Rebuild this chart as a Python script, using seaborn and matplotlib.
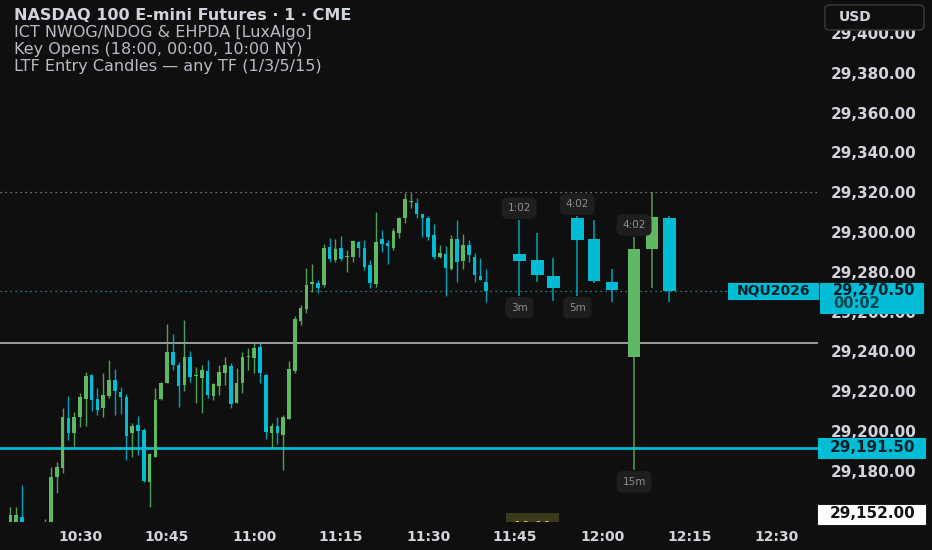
import numpy as np
import pandas as pd
import matplotlib
matplotlib.use("Agg")
import matplotlib.pyplot as plt
from matplotlib.patches import Rectangle, FancyBboxPatch
import seaborn as sns

# 1 minute candles, first one at 10:18
start_minute = 18
opens = [
    29150, 29148, 29157, 29140, 29150, 29142, 29148, 29150, 29177, 29181.5,
    29206.5, 29199, 29207, 29216, 29228, 29216, 29211.5, 29217.5, 29225.5, 29219.5,
    29217, 29199, 29203, 29200.5, 29174.5, 29187, 29216, 29224, 29239.5, 29233,
    29223, 29237, 29227.5, 29226.5, 29230, 29217.5, 29222.5, 29229, 29232.5, 29214,
    29224, 29237, 29236.5, 29242, 29228, 29199, 29202.5, 29198, 29206, 29230,
    29255.5, 29261.5, 29274, 29274.5, 29273.5, 29292.5, 29286, 29292, 29287.5, 29287.5,
    29295, 29292, 29283.5, 29274, 29296.5, 29294.5, 29292, 29299.5, 29307, 29315,
    29314.5, 29309, 29307, 29298.5, 29287.5, 29289, 29281.5, 29296.5, 29285.5, 29293.5,
    29287.5, 29278, 29275]
highs = [
    29162, 29162, 29173, 29153, 29152, 29154, 29156, 29182, 29184.5, 29211.5,
    29217.5, 29209.5, 29219, 29229.5, 29228.5, 29221.5, 29229, 29235.5, 29231, 29222,
    29218.5, 29204, 29207.5, 29201.5, 29189, 29221.5, 29224.5, 29254, 29249, 29234.5,
    29256, 29240, 29232, 29233, 29235.5, 29224, 29233, 29237, 29234, 29231.5,
    29239.5, 29241.5, 29244.5, 29244, 29228.5, 29204, 29207, 29208, 29235, 29258,
    29263.5, 29282, 29284, 29276, 29294, 29297, 29296.5, 29298, 29291, 29296,
    29295.5, 29296, 29286, 29310, 29301, 29296, 29302, 29307.5, 29319.5, 29319.5,
    29317, 29309, 29308, 29304, 29293.5, 29293, 29298.5, 29306, 29299, 29296,
    29289.5, 29287, 29281.5]
lows = [
    29140, 29140, 29140, 29135, 29138, 29138, 29145, 29148, 29169, 29179,
    29195.5, 29192.5, 29202, 29202.5, 29210, 29208, 29207, 29216.5, 29208, 29208.5,
    29185.5, 29187, 29188, 29174.5, 29162, 29187, 29215.5, 29224, 29230.5, 29212,
    29220, 29224.5, 29214, 29209, 29216.5, 29215.5, 29218, 29223, 29211.5, 29214,
    29219, 29230.5, 29229, 29224, 29196, 29191.5, 29193.5, 29180.5, 29206, 29229,
    29253.5, 29259.5, 29270, 29269.5, 29272.5, 29285, 29285, 29285.5, 29280, 29285,
    29287.5, 29281, 29272, 29272.5, 29290, 29284, 29291, 29297, 29304.5, 29312,
    29307, 29297.5, 29296, 29286.5, 29287, 29268, 29281, 29275, 29281.5, 29285,
    29275, 29276, 29265]
closes = [
    29158, 29158, 29145, 29150, 29142, 29152, 29154, 29177, 29182, 29207,
    29199, 29207, 29217, 29227.5, 29215.5, 29210.5, 29218, 29225.5, 29220, 29217,
    29197.5, 29202.5, 29200, 29175, 29188.5, 29215.5, 29224, 29239.5, 29233, 29222.5,
    29237, 29227, 29227.5, 29230.5, 29218, 29223.5, 29229.5, 29233, 29213.5, 29224,
    29237, 29237.5, 29241.5, 29229, 29199.5, 29202.5, 29199, 29207, 29231, 29256.5,
    29262, 29273.5, 29275, 29272, 29292, 29286.5, 29291.5, 29286.5, 29288, 29295.5,
    29292, 29282.5, 29274.5, 29295, 29294, 29293, 29300.5, 29307, 29316.5, 29315.5,
    29309, 29307, 29297.5, 29287.5, 29289.5, 29282, 29296.5, 29285, 29293.5, 29288.5,
    29278.5, 29276, 29270.5]

# LTF entry candles (3m, 5m, 15m groups) drawn right of the last bar
ltf_minute = [105.7, 108.8, 111.6, 115.7, 118.6, 121.7, 125.5, 128.6, 131.6]
ltf_open = [29289, 29286, 29278, 29307, 29296.5, 29275, 29237, 29291.5, 29307]
ltf_high = [29306, 29299.5, 29287, 29308, 29306, 29281.5, 29297.5, 29320, 29308]
ltf_low = [29268, 29275, 29265.5, 29268, 29274.5, 29265, 29180.5, 29272, 29265]
ltf_close = [29285.5, 29278.5, 29272, 29296, 29275.5, 29271, 29291.5, 29307.5, 29270.5]
ltf_tf = ["3m", "5m", "15m"]
ltf_countdown = ["1:02", "4:02", "4:02"]

# levels
prev_high = 29320
gray_level = 29244
cyan_level = 29191.5
key_open_1000 = 29152
symbol = "NQU2026"
bar_timer = "00:02"

ytick_vals = [29180, 29200, 29220, 29240, 29260, 29280, 29300, 29320, 29340, 29360, 29380, 29400]
xtick_minutes = [30, 45, 60, 75, 90, 105, 120, 135, 150]
xtick_labels = ["10:30", "10:45", "11:00", "11:15", "11:30", "11:45", "12:00", "12:15", "12:30"]

title_lines = ["NASDAQ 100 E-mini Futures · 1 · CME",
               "ICT NWOG/NDOG & EHPDA [LuxAlgo]",
               "Key Opens (18:00, 00:00, 10:00 NY)",
               "LTF Entry Candles — any TF (1/3/5/15)"]

BG = "#0f0f0f"
UP = "#5fb862"
DN = "#00bcd4"
TXT = "#d1d4dc"

sns.set_theme(style="dark", rc={"axes.facecolor": BG, "figure.facecolor": BG})
plt.rcParams["font.family"] = ["DejaVu Sans"]

W, H = 932, 550
fig = plt.figure(figsize=(W / 100, H / 100), dpi=100)
ax = fig.add_axes([0, 28 / H, 818 / W, 522 / H])
ax.set_facecolor(BG)
ax.set_xlim(16.2, 157.2)
ax.set_ylim(29154.3, 29416.6)

df = pd.DataFrame({"open": opens, "high": highs, "low": lows, "close": closes})
df["minute"] = start_minute + np.arange(len(df))


def draw_candles(ax, x, o, h, l, c, width, lw):
    o, h, l, c = map(np.asarray, (o, h, l, c))
    up = c >= o
    colors = np.where(up, UP, DN)
    ax.vlines(x, l, h, colors=colors, lw=lw, zorder=3, alpha=0.85)
    bottom = np.minimum(o, c)
    height = np.maximum(np.abs(c - o), 0.7)
    ax.bar(x, height, bottom=bottom, width=width, color=colors, lw=0, zorder=4)


# horizontal levels
ax.axhline(prev_high, color="#9a9a9a", ls=(0, (1, 3)), lw=0.9, zorder=2)
ax.axhline(closes[-1], color="#1aa7b8", ls=(0, (1, 3)), lw=0.9, zorder=2)
ax.axhline(gray_level, color="#a8a8a8", lw=1.3, zorder=2)
ax.axhline(cyan_level, color=DN, lw=2.0, zorder=2)

draw_candles(ax, df["minute"], df["open"], df["high"], df["low"], df["close"], 0.62, 1.0)
draw_candles(ax, ltf_minute, ltf_open, ltf_high, ltf_low, ltf_close, 2.2, 1.1)

# LTF labels: countdown above, timeframe below the first candle of each group
lab_box = dict(boxstyle="round,pad=0.55", fc="#1e1e1e", ec="none")
for g in range(3):
    i = g * 3
    ax.annotate(ltf_countdown[g], (ltf_minute[i], ltf_high[i]), xytext=(0, 12),
                textcoords="offset pixels", ha="center", va="center", fontsize=7.5,
                color="#8e8e8e", bbox=lab_box, zorder=6)
    ax.annotate(ltf_tf[g], (ltf_minute[i], ltf_low[i]), xytext=(0, -12),
                textcoords="offset pixels", ha="center", va="center", fontsize=7.5,
                color="#8e8e8e", bbox=lab_box, zorder=6)

# 10:00 key-open tag, mostly below the visible range
ax.text(108, key_open_1000, "10:00", ha="center", va="center", fontsize=9.5, color="#e8d44a",
        bbox=dict(boxstyle="square,pad=0.55", fc="#3b3a1c", ec="none"), clip_on=True, zorder=6)

# axes
ax.yaxis.tick_right()
ax.set_yticks(ytick_vals)
ax.set_yticklabels([f"{v:,.2f}" for v in ytick_vals])
ax.set_xticks(xtick_minutes)
ax.set_xticklabels(xtick_labels)
ax.tick_params(axis="y", length=0, pad=9, labelsize=11, labelcolor=TXT)
ax.tick_params(axis="x", length=0, pad=6, labelsize=10, labelcolor=TXT)
for lab in ax.get_yticklabels() + ax.get_xticklabels():
    lab.set_fontweight("bold")
ax.grid(False)
sns.despine(ax=ax, left=True, bottom=True, right=True, top=True)


def top_px(price):
    return H - ax.transData.transform((ax.get_xlim()[0], price))[1]


def fbox(x0, x1, y0, y1, fc, ec=None, z=7):
    fig.add_artist(Rectangle((x0 / W, 1 - y1 / H), (x1 - x0) / W, (y1 - y0) / H,
                             transform=fig.transFigure, fc=fc, ec=ec or fc, lw=0.8, zorder=z))


def ftext(x, y, s, **kw):
    fig.text(x / W, 1 - y / H, s, zorder=8, **kw)


# current price + symbol tags
pc = top_px(closes[-1])
fbox(728, 818, pc - 8, pc + 8, DN)
ftext(773, pc, symbol, ha="center", va="center", fontsize=10,
      fontweight="bold", color="#0b1f28")
fbox(820, 923, pc - 8, pc + 22, DN)
ftext(833, pc, f"{closes[-1]:,.2f}", ha="left", va="center", fontsize=10.5,
      fontweight="bold", color="#0b1f28")
ftext(833, pc + 13, bar_timer, ha="left", va="center", fontsize=10.5,
      fontweight="bold", color="#0b4452")

pcy = top_px(cyan_level)
fbox(818, 925, pcy - 10, pcy + 10, DN)
ftext(830, pcy, f"{cyan_level:,.2f}", ha="left", va="center", fontsize=11,
      fontweight="bold", color="#0b1f28")

pk = min(top_px(key_open_1000), 514)
fbox(818, 925, pk - 9.5, pk + 9.5, "#ffffff")
ftext(830, pk, f"{key_open_1000:,.2f}", ha="left", va="center", fontsize=11,
      fontweight="bold", color="#131313")

# currency button
fig.add_artist(FancyBboxPatch((825 / W, 1 - 30 / H), 99 / W, 25 / H,
                              boxstyle="round,pad=0,rounding_size=0.006",
                              transform=fig.transFigure, fc=BG, ec="#3c3c3c", lw=1, zorder=7))
ftext(839, 17, "USD", ha="left", va="center", fontsize=10, fontweight="bold", color=TXT)

# legend lines
for n, line in enumerate(title_lines):
    ftext(14, 16 + n * 16.7, line, ha="left", va="center", fontsize=11.5,
          color="#d1d4dc" if n == 0 else "#b8bcc6", fontweight="bold" if n == 0 else "normal")

fig.savefig("out.png", dpi=100, facecolor=BG)
